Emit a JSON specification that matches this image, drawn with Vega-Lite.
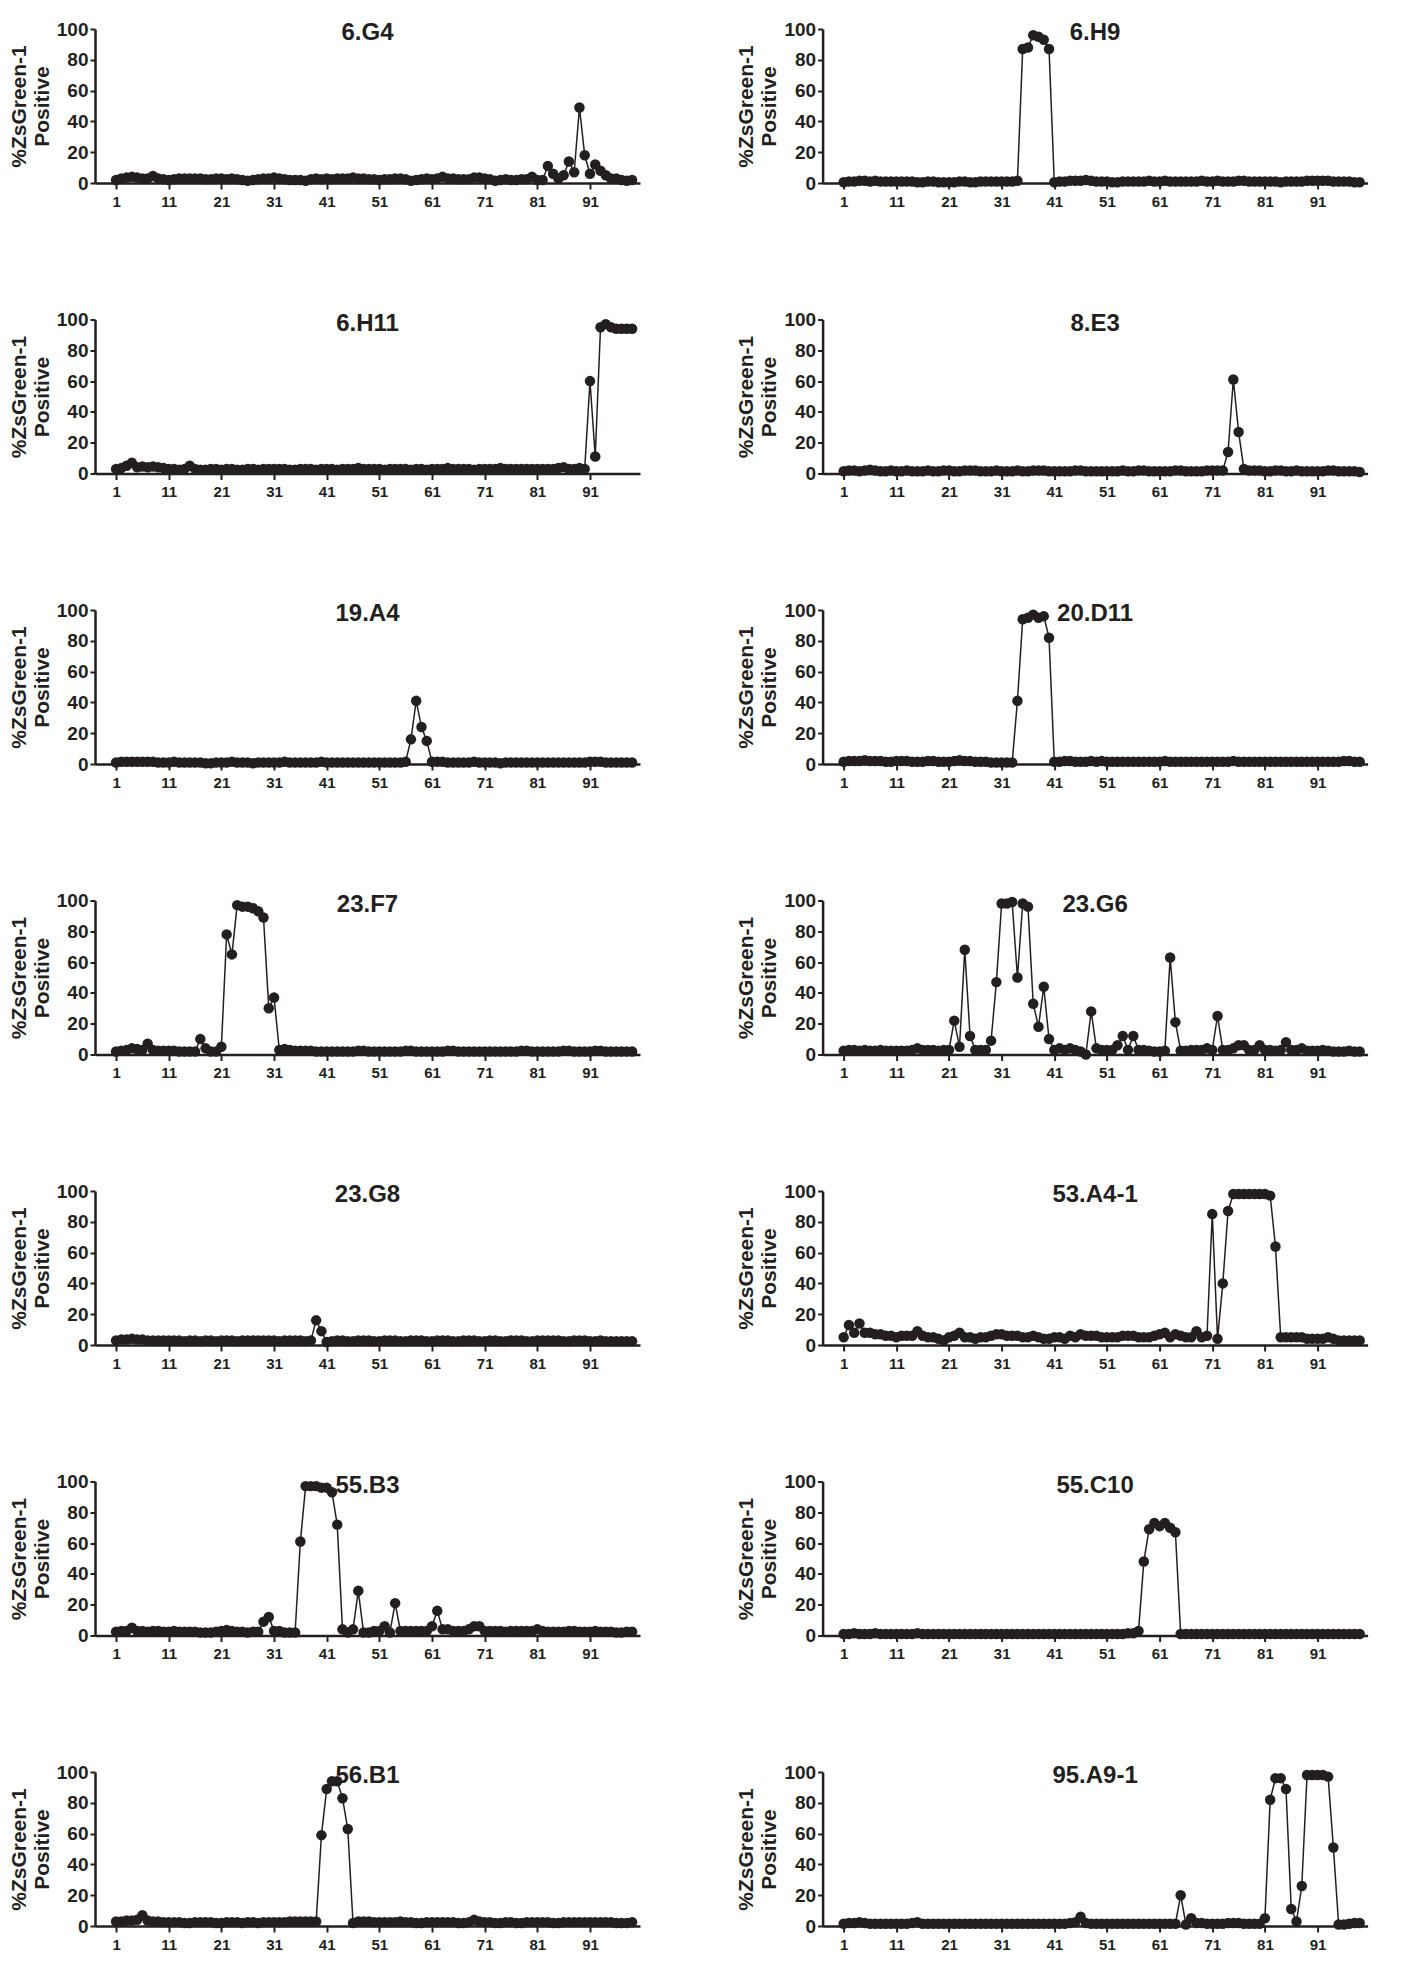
{
  "$schema": "https://vega.github.io/schema/vega-lite/v6.json",
  "padding": {"left": 8, "top": 20, "right": 5, "bottom": 5},
  "columns": 2,
  "spacing": {"row": 136.5, "column": 182.6},
  "bounds": "flush",
  "config": {
    "view": {"stroke": null},
    "font": "Liberation Sans",
    "title": {"font": "Liberation Sans", "fontSize": 24, "fontWeight": "bold", "color": "#231f20", "anchor": "middle", "offset": -25, "baseline": "alphabetic"},
    "axis": {"domainColor": "#231f20", "domainWidth": 2.5, "tickColor": "#231f20", "tickWidth": 2, "grid": false, "labelColor": "#231f20", "labelFont": "Liberation Sans", "labelFontWeight": "bold", "titleColor": "#231f20", "titleFont": "Liberation Sans", "titleFontWeight": "bold"},
    "axisX": {"labelFontSize": 15, "tickSize": 6, "labelPadding": 5},
    "axisY": {"labelFontSize": 19, "tickSize": 5, "labelPadding": 2, "titleFontSize": 21, "titleLineHeight": 23, "titlePadding": 4}
  },
  "datasets": {
    "g6G4": [{"well":1,"pct":2},{"well":2,"pct":3},{"well":3,"pct":3.5},{"well":4,"pct":4},{"well":5,"pct":3.5},{"well":6,"pct":3},{"well":7,"pct":3},{"well":8,"pct":4.5},{"well":9,"pct":3},{"well":10,"pct":2.5},{"well":11,"pct":2},{"well":12,"pct":2.5},{"well":13,"pct":3},{"well":14,"pct":3},{"well":15,"pct":3},{"well":16,"pct":3},{"well":17,"pct":3},{"well":18,"pct":2.5},{"well":19,"pct":2.5},{"well":20,"pct":3},{"well":21,"pct":3},{"well":22,"pct":2.5},{"well":23,"pct":3},{"well":24,"pct":2.5},{"well":25,"pct":2},{"well":26,"pct":1.5},{"well":27,"pct":2},{"well":28,"pct":2.5},{"well":29,"pct":3},{"well":30,"pct":3},{"well":31,"pct":3.5},{"well":32,"pct":3},{"well":33,"pct":2.5},{"well":34,"pct":2},{"well":35,"pct":2},{"well":36,"pct":2},{"well":37,"pct":1.5},{"well":38,"pct":2.5},{"well":39,"pct":3},{"well":40,"pct":2.5},{"well":41,"pct":3},{"well":42,"pct":2.5},{"well":43,"pct":3},{"well":44,"pct":3},{"well":45,"pct":3},{"well":46,"pct":3.5},{"well":47,"pct":3},{"well":48,"pct":3},{"well":49,"pct":2.5},{"well":50,"pct":2.5},{"well":51,"pct":2},{"well":52,"pct":2.5},{"well":53,"pct":2.5},{"well":54,"pct":3},{"well":55,"pct":3},{"well":56,"pct":2.5},{"well":57,"pct":1.5},{"well":58,"pct":2},{"well":59,"pct":2.5},{"well":60,"pct":3},{"well":61,"pct":2.5},{"well":62,"pct":3},{"well":63,"pct":4},{"well":64,"pct":3},{"well":65,"pct":3},{"well":66,"pct":2.5},{"well":67,"pct":2.5},{"well":68,"pct":2.5},{"well":69,"pct":3.5},{"well":70,"pct":3.5},{"well":71,"pct":3},{"well":72,"pct":2.5},{"well":73,"pct":1.5},{"well":74,"pct":2},{"well":75,"pct":2.5},{"well":76,"pct":2},{"well":77,"pct":2},{"well":78,"pct":2.5},{"well":79,"pct":2.5},{"well":80,"pct":4},{"well":81,"pct":2},{"well":82,"pct":2},{"well":83,"pct":11},{"well":84,"pct":6},{"well":85,"pct":3},{"well":86,"pct":5},{"well":87,"pct":14},{"well":88,"pct":7},{"well":89,"pct":49},{"well":90,"pct":18},{"well":91,"pct":6},{"well":92,"pct":12},{"well":93,"pct":8},{"well":94,"pct":5},{"well":95,"pct":3},{"well":96,"pct":3},{"well":97,"pct":2},{"well":98,"pct":1.5},{"well":99,"pct":2}],
    "g6H9": [{"well":1,"pct":0.5},{"well":2,"pct":1},{"well":3,"pct":1},{"well":4,"pct":1.5},{"well":5,"pct":1.5},{"well":6,"pct":1},{"well":7,"pct":1.5},{"well":8,"pct":1},{"well":9,"pct":1},{"well":10,"pct":1},{"well":11,"pct":1},{"well":12,"pct":1},{"well":13,"pct":1},{"well":14,"pct":1},{"well":15,"pct":0.5},{"well":16,"pct":0.5},{"well":17,"pct":1},{"well":18,"pct":1},{"well":19,"pct":0.5},{"well":20,"pct":0.5},{"well":21,"pct":0.5},{"well":22,"pct":0.5},{"well":23,"pct":1},{"well":24,"pct":1},{"well":25,"pct":0.5},{"well":26,"pct":0.5},{"well":27,"pct":1},{"well":28,"pct":1},{"well":29,"pct":1},{"well":30,"pct":1},{"well":31,"pct":1},{"well":32,"pct":1},{"well":33,"pct":1},{"well":34,"pct":1.5},{"well":35,"pct":87},{"well":36,"pct":88},{"well":37,"pct":96},{"well":38,"pct":95},{"well":39,"pct":93},{"well":40,"pct":87},{"well":41,"pct":0.5},{"well":42,"pct":1},{"well":43,"pct":1},{"well":44,"pct":1.5},{"well":45,"pct":1.5},{"well":46,"pct":1.5},{"well":47,"pct":2},{"well":48,"pct":1.5},{"well":49,"pct":1},{"well":50,"pct":1},{"well":51,"pct":1},{"well":52,"pct":0.5},{"well":53,"pct":0.5},{"well":54,"pct":1},{"well":55,"pct":1},{"well":56,"pct":1},{"well":57,"pct":1},{"well":58,"pct":1},{"well":59,"pct":1.5},{"well":60,"pct":1},{"well":61,"pct":1},{"well":62,"pct":1.5},{"well":63,"pct":1},{"well":64,"pct":1},{"well":65,"pct":1},{"well":66,"pct":1},{"well":67,"pct":1},{"well":68,"pct":1},{"well":69,"pct":1.5},{"well":70,"pct":1},{"well":71,"pct":1},{"well":72,"pct":1.5},{"well":73,"pct":1},{"well":74,"pct":1},{"well":75,"pct":1},{"well":76,"pct":1.5},{"well":77,"pct":1.5},{"well":78,"pct":1},{"well":79,"pct":1},{"well":80,"pct":1},{"well":81,"pct":1},{"well":82,"pct":1},{"well":83,"pct":1},{"well":84,"pct":0.5},{"well":85,"pct":1},{"well":86,"pct":1},{"well":87,"pct":1},{"well":88,"pct":1},{"well":89,"pct":1.5},{"well":90,"pct":1.5},{"well":91,"pct":1.5},{"well":92,"pct":1.5},{"well":93,"pct":1.5},{"well":94,"pct":1},{"well":95,"pct":1},{"well":96,"pct":1},{"well":97,"pct":1},{"well":98,"pct":0.5},{"well":99,"pct":0.5}],
    "g6H11": [{"well":1,"pct":3},{"well":2,"pct":3.5},{"well":3,"pct":5},{"well":4,"pct":7},{"well":5,"pct":4},{"well":6,"pct":4.5},{"well":7,"pct":4},{"well":8,"pct":4.5},{"well":9,"pct":4},{"well":10,"pct":3.5},{"well":11,"pct":3},{"well":12,"pct":3},{"well":13,"pct":2.5},{"well":14,"pct":3},{"well":15,"pct":5},{"well":16,"pct":3},{"well":17,"pct":2.5},{"well":18,"pct":2.5},{"well":19,"pct":3},{"well":20,"pct":3},{"well":21,"pct":2.5},{"well":22,"pct":3},{"well":23,"pct":3},{"well":24,"pct":2.5},{"well":25,"pct":2.5},{"well":26,"pct":3},{"well":27,"pct":3},{"well":28,"pct":2.5},{"well":29,"pct":3},{"well":30,"pct":3},{"well":31,"pct":3},{"well":32,"pct":3},{"well":33,"pct":3},{"well":34,"pct":2.5},{"well":35,"pct":2.5},{"well":36,"pct":3},{"well":37,"pct":3},{"well":38,"pct":3},{"well":39,"pct":2.5},{"well":40,"pct":3},{"well":41,"pct":3},{"well":42,"pct":3},{"well":43,"pct":2.5},{"well":44,"pct":3},{"well":45,"pct":3},{"well":46,"pct":3},{"well":47,"pct":3.5},{"well":48,"pct":3},{"well":49,"pct":3},{"well":50,"pct":3},{"well":51,"pct":3},{"well":52,"pct":2.5},{"well":53,"pct":3},{"well":54,"pct":3},{"well":55,"pct":3},{"well":56,"pct":3},{"well":57,"pct":2.5},{"well":58,"pct":3},{"well":59,"pct":3},{"well":60,"pct":2.5},{"well":61,"pct":3},{"well":62,"pct":3},{"well":63,"pct":3},{"well":64,"pct":3.5},{"well":65,"pct":3},{"well":66,"pct":3},{"well":67,"pct":3},{"well":68,"pct":3},{"well":69,"pct":2.5},{"well":70,"pct":3},{"well":71,"pct":3},{"well":72,"pct":3},{"well":73,"pct":3},{"well":74,"pct":3.5},{"well":75,"pct":3},{"well":76,"pct":3},{"well":77,"pct":3},{"well":78,"pct":3},{"well":79,"pct":3},{"well":80,"pct":3},{"well":81,"pct":3},{"well":82,"pct":3},{"well":83,"pct":3},{"well":84,"pct":3},{"well":85,"pct":3.5},{"well":86,"pct":4},{"well":87,"pct":3},{"well":88,"pct":3},{"well":89,"pct":3.5},{"well":90,"pct":3},{"well":91,"pct":60},{"well":92,"pct":11},{"well":93,"pct":95},{"well":94,"pct":97},{"well":95,"pct":95},{"well":96,"pct":94},{"well":97,"pct":94},{"well":98,"pct":94},{"well":99,"pct":94}],
    "g8E3": [{"well":1,"pct":1.5},{"well":2,"pct":2},{"well":3,"pct":2},{"well":4,"pct":1.5},{"well":5,"pct":2},{"well":6,"pct":2.5},{"well":7,"pct":2},{"well":8,"pct":1.5},{"well":9,"pct":1.5},{"well":10,"pct":2},{"well":11,"pct":1.5},{"well":12,"pct":1.5},{"well":13,"pct":2},{"well":14,"pct":1.5},{"well":15,"pct":1.5},{"well":16,"pct":1.5},{"well":17,"pct":2},{"well":18,"pct":1.5},{"well":19,"pct":1.5},{"well":20,"pct":2},{"well":21,"pct":2},{"well":22,"pct":1.5},{"well":23,"pct":1.5},{"well":24,"pct":2},{"well":25,"pct":2},{"well":26,"pct":2},{"well":27,"pct":1.5},{"well":28,"pct":1.5},{"well":29,"pct":1.5},{"well":30,"pct":2},{"well":31,"pct":1.5},{"well":32,"pct":1.5},{"well":33,"pct":1.5},{"well":34,"pct":2},{"well":35,"pct":1.5},{"well":36,"pct":1.5},{"well":37,"pct":2},{"well":38,"pct":2},{"well":39,"pct":2},{"well":40,"pct":1.5},{"well":41,"pct":1.5},{"well":42,"pct":1.5},{"well":43,"pct":1.5},{"well":44,"pct":1.5},{"well":45,"pct":2},{"well":46,"pct":2},{"well":47,"pct":1.5},{"well":48,"pct":1.5},{"well":49,"pct":1.5},{"well":50,"pct":1.5},{"well":51,"pct":1.5},{"well":52,"pct":1.5},{"well":53,"pct":1.5},{"well":54,"pct":2},{"well":55,"pct":1.5},{"well":56,"pct":1.5},{"well":57,"pct":2},{"well":58,"pct":2},{"well":59,"pct":1.5},{"well":60,"pct":1.5},{"well":61,"pct":1.5},{"well":62,"pct":1.5},{"well":63,"pct":1.5},{"well":64,"pct":2},{"well":65,"pct":2},{"well":66,"pct":1.5},{"well":67,"pct":1.5},{"well":68,"pct":1.5},{"well":69,"pct":1.5},{"well":70,"pct":2},{"well":71,"pct":2},{"well":72,"pct":2},{"well":73,"pct":2},{"well":74,"pct":14},{"well":75,"pct":61},{"well":76,"pct":27},{"well":77,"pct":3},{"well":78,"pct":2},{"well":79,"pct":2},{"well":80,"pct":2},{"well":81,"pct":1.5},{"well":82,"pct":1.5},{"well":83,"pct":2},{"well":84,"pct":2},{"well":85,"pct":1.5},{"well":86,"pct":1.5},{"well":87,"pct":2},{"well":88,"pct":1.5},{"well":89,"pct":1.5},{"well":90,"pct":1.5},{"well":91,"pct":1.5},{"well":92,"pct":1.5},{"well":93,"pct":2},{"well":94,"pct":2},{"well":95,"pct":1.5},{"well":96,"pct":1.5},{"well":97,"pct":1.5},{"well":98,"pct":1.5},{"well":99,"pct":1}],
    "g19A4": [{"well":1,"pct":1},{"well":2,"pct":1.5},{"well":3,"pct":1.5},{"well":4,"pct":1.5},{"well":5,"pct":1.5},{"well":6,"pct":1.5},{"well":7,"pct":1.5},{"well":8,"pct":1.5},{"well":9,"pct":1},{"well":10,"pct":1},{"well":11,"pct":1},{"well":12,"pct":1.5},{"well":13,"pct":1},{"well":14,"pct":1},{"well":15,"pct":1},{"well":16,"pct":1},{"well":17,"pct":1},{"well":18,"pct":0.5},{"well":19,"pct":0.5},{"well":20,"pct":1},{"well":21,"pct":1},{"well":22,"pct":1},{"well":23,"pct":1.5},{"well":24,"pct":1},{"well":25,"pct":1},{"well":26,"pct":1},{"well":27,"pct":0.5},{"well":28,"pct":1},{"well":29,"pct":1},{"well":30,"pct":1},{"well":31,"pct":1},{"well":32,"pct":1},{"well":33,"pct":1.5},{"well":34,"pct":1},{"well":35,"pct":1},{"well":36,"pct":1},{"well":37,"pct":1},{"well":38,"pct":1},{"well":39,"pct":1},{"well":40,"pct":1.5},{"well":41,"pct":1},{"well":42,"pct":1},{"well":43,"pct":1},{"well":44,"pct":1},{"well":45,"pct":1},{"well":46,"pct":1},{"well":47,"pct":1},{"well":48,"pct":1},{"well":49,"pct":1},{"well":50,"pct":1},{"well":51,"pct":1},{"well":52,"pct":1},{"well":53,"pct":1},{"well":54,"pct":1},{"well":55,"pct":1},{"well":56,"pct":1.5},{"well":57,"pct":16},{"well":58,"pct":41},{"well":59,"pct":24},{"well":60,"pct":15},{"well":61,"pct":1.5},{"well":62,"pct":1.5},{"well":63,"pct":1.5},{"well":64,"pct":1},{"well":65,"pct":1},{"well":66,"pct":1},{"well":67,"pct":1},{"well":68,"pct":1},{"well":69,"pct":1.5},{"well":70,"pct":1},{"well":71,"pct":1},{"well":72,"pct":1},{"well":73,"pct":1},{"well":74,"pct":0.5},{"well":75,"pct":1},{"well":76,"pct":1},{"well":77,"pct":1},{"well":78,"pct":1},{"well":79,"pct":1},{"well":80,"pct":1},{"well":81,"pct":1},{"well":82,"pct":1},{"well":83,"pct":1},{"well":84,"pct":1},{"well":85,"pct":1},{"well":86,"pct":1},{"well":87,"pct":1},{"well":88,"pct":1},{"well":89,"pct":1},{"well":90,"pct":1},{"well":91,"pct":1.5},{"well":92,"pct":1.5},{"well":93,"pct":1.5},{"well":94,"pct":1},{"well":95,"pct":1},{"well":96,"pct":1},{"well":97,"pct":1},{"well":98,"pct":1},{"well":99,"pct":1}],
    "g20D11": [{"well":1,"pct":1.5},{"well":2,"pct":2},{"well":3,"pct":2},{"well":4,"pct":2},{"well":5,"pct":2.5},{"well":6,"pct":2},{"well":7,"pct":2},{"well":8,"pct":2},{"well":9,"pct":1.5},{"well":10,"pct":1.5},{"well":11,"pct":2},{"well":12,"pct":2},{"well":13,"pct":2},{"well":14,"pct":1.5},{"well":15,"pct":1.5},{"well":16,"pct":1.5},{"well":17,"pct":2},{"well":18,"pct":2},{"well":19,"pct":1.5},{"well":20,"pct":1.5},{"well":21,"pct":1.5},{"well":22,"pct":2},{"well":23,"pct":2.5},{"well":24,"pct":2},{"well":25,"pct":2},{"well":26,"pct":1.5},{"well":27,"pct":1.5},{"well":28,"pct":1.5},{"well":29,"pct":1},{"well":30,"pct":1},{"well":31,"pct":1},{"well":32,"pct":1},{"well":33,"pct":1},{"well":34,"pct":41},{"well":35,"pct":94},{"well":36,"pct":95},{"well":37,"pct":97},{"well":38,"pct":95},{"well":39,"pct":96},{"well":40,"pct":82},{"well":41,"pct":1.5},{"well":42,"pct":1.5},{"well":43,"pct":2},{"well":44,"pct":2},{"well":45,"pct":1.5},{"well":46,"pct":1.5},{"well":47,"pct":1.5},{"well":48,"pct":2},{"well":49,"pct":1.5},{"well":50,"pct":2},{"well":51,"pct":1.5},{"well":52,"pct":1.5},{"well":53,"pct":1.5},{"well":54,"pct":1.5},{"well":55,"pct":1.5},{"well":56,"pct":1.5},{"well":57,"pct":1.5},{"well":58,"pct":1.5},{"well":59,"pct":1.5},{"well":60,"pct":1.5},{"well":61,"pct":1.5},{"well":62,"pct":2},{"well":63,"pct":1.5},{"well":64,"pct":1.5},{"well":65,"pct":1.5},{"well":66,"pct":1.5},{"well":67,"pct":1.5},{"well":68,"pct":1.5},{"well":69,"pct":1.5},{"well":70,"pct":1.5},{"well":71,"pct":1.5},{"well":72,"pct":1.5},{"well":73,"pct":1.5},{"well":74,"pct":1.5},{"well":75,"pct":2},{"well":76,"pct":1.5},{"well":77,"pct":1.5},{"well":78,"pct":1.5},{"well":79,"pct":1.5},{"well":80,"pct":1.5},{"well":81,"pct":1.5},{"well":82,"pct":1.5},{"well":83,"pct":1.5},{"well":84,"pct":1.5},{"well":85,"pct":1.5},{"well":86,"pct":1.5},{"well":87,"pct":1.5},{"well":88,"pct":1.5},{"well":89,"pct":1.5},{"well":90,"pct":1.5},{"well":91,"pct":1.5},{"well":92,"pct":1.5},{"well":93,"pct":1.5},{"well":94,"pct":1.5},{"well":95,"pct":1.5},{"well":96,"pct":2},{"well":97,"pct":2},{"well":98,"pct":1.5},{"well":99,"pct":1.5}],
    "g23F7": [{"well":1,"pct":2},{"well":2,"pct":2.5},{"well":3,"pct":3},{"well":4,"pct":4},{"well":5,"pct":3.5},{"well":6,"pct":3},{"well":7,"pct":7},{"well":8,"pct":3},{"well":9,"pct":2.5},{"well":10,"pct":2.5},{"well":11,"pct":2.5},{"well":12,"pct":2.5},{"well":13,"pct":2},{"well":14,"pct":2},{"well":15,"pct":2},{"well":16,"pct":2},{"well":17,"pct":10},{"well":18,"pct":4},{"well":19,"pct":2},{"well":20,"pct":2},{"well":21,"pct":5},{"well":22,"pct":78},{"well":23,"pct":65},{"well":24,"pct":97},{"well":25,"pct":96},{"well":26,"pct":96},{"well":27,"pct":95},{"well":28,"pct":93},{"well":29,"pct":89},{"well":30,"pct":30},{"well":31,"pct":37},{"well":32,"pct":3},{"well":33,"pct":3.5},{"well":34,"pct":3},{"well":35,"pct":2.5},{"well":36,"pct":2.5},{"well":37,"pct":2.5},{"well":38,"pct":2.5},{"well":39,"pct":2},{"well":40,"pct":2},{"well":41,"pct":2},{"well":42,"pct":2},{"well":43,"pct":2},{"well":44,"pct":2},{"well":45,"pct":2},{"well":46,"pct":2},{"well":47,"pct":2.5},{"well":48,"pct":2.5},{"well":49,"pct":2},{"well":50,"pct":2},{"well":51,"pct":2},{"well":52,"pct":2},{"well":53,"pct":2},{"well":54,"pct":2},{"well":55,"pct":2},{"well":56,"pct":2.5},{"well":57,"pct":2.5},{"well":58,"pct":2},{"well":59,"pct":2},{"well":60,"pct":2},{"well":61,"pct":2},{"well":62,"pct":2},{"well":63,"pct":2},{"well":64,"pct":2.5},{"well":65,"pct":2.5},{"well":66,"pct":2},{"well":67,"pct":2},{"well":68,"pct":2},{"well":69,"pct":2},{"well":70,"pct":2},{"well":71,"pct":2},{"well":72,"pct":2},{"well":73,"pct":2},{"well":74,"pct":2},{"well":75,"pct":2},{"well":76,"pct":2},{"well":77,"pct":2},{"well":78,"pct":2.5},{"well":79,"pct":2.5},{"well":80,"pct":2},{"well":81,"pct":2},{"well":82,"pct":2},{"well":83,"pct":2},{"well":84,"pct":2},{"well":85,"pct":2},{"well":86,"pct":2.5},{"well":87,"pct":2.5},{"well":88,"pct":2},{"well":89,"pct":2},{"well":90,"pct":2},{"well":91,"pct":2},{"well":92,"pct":2.5},{"well":93,"pct":2.5},{"well":94,"pct":2},{"well":95,"pct":2},{"well":96,"pct":2},{"well":97,"pct":2},{"well":98,"pct":2},{"well":99,"pct":2}],
    "g23G6": [{"well":1,"pct":2.5},{"well":2,"pct":3},{"well":3,"pct":3},{"well":4,"pct":2.5},{"well":5,"pct":3},{"well":6,"pct":2.5},{"well":7,"pct":2.5},{"well":8,"pct":3},{"well":9,"pct":2.5},{"well":10,"pct":2.5},{"well":11,"pct":2.5},{"well":12,"pct":2.5},{"well":13,"pct":2.5},{"well":14,"pct":3},{"well":15,"pct":4},{"well":16,"pct":3},{"well":17,"pct":3},{"well":18,"pct":3},{"well":19,"pct":2.5},{"well":20,"pct":3},{"well":21,"pct":3},{"well":22,"pct":22},{"well":23,"pct":5},{"well":24,"pct":68},{"well":25,"pct":12},{"well":26,"pct":3},{"well":27,"pct":3},{"well":28,"pct":3},{"well":29,"pct":9},{"well":30,"pct":47},{"well":31,"pct":98},{"well":32,"pct":98},{"well":33,"pct":99},{"well":34,"pct":50},{"well":35,"pct":98},{"well":36,"pct":96},{"well":37,"pct":33},{"well":38,"pct":18},{"well":39,"pct":44},{"well":40,"pct":10},{"well":41,"pct":3},{"well":42,"pct":4},{"well":43,"pct":3},{"well":44,"pct":4},{"well":45,"pct":3},{"well":46,"pct":2},{"well":47,"pct":0},{"well":48,"pct":28},{"well":49,"pct":4},{"well":50,"pct":3},{"well":51,"pct":3},{"well":52,"pct":3},{"well":53,"pct":6},{"well":54,"pct":12},{"well":55,"pct":3},{"well":56,"pct":12},{"well":57,"pct":3},{"well":58,"pct":3},{"well":59,"pct":2.5},{"well":60,"pct":2},{"well":61,"pct":2},{"well":62,"pct":2.5},{"well":63,"pct":63},{"well":64,"pct":21},{"well":65,"pct":2.5},{"well":66,"pct":2.5},{"well":67,"pct":3},{"well":68,"pct":3},{"well":69,"pct":3},{"well":70,"pct":4},{"well":71,"pct":3},{"well":72,"pct":25},{"well":73,"pct":3},{"well":74,"pct":3},{"well":75,"pct":4},{"well":76,"pct":6},{"well":77,"pct":6},{"well":78,"pct":3},{"well":79,"pct":3},{"well":80,"pct":6},{"well":81,"pct":3},{"well":82,"pct":3},{"well":83,"pct":2.5},{"well":84,"pct":3},{"well":85,"pct":8},{"well":86,"pct":3},{"well":87,"pct":3},{"well":88,"pct":4},{"well":89,"pct":2.5},{"well":90,"pct":2.5},{"well":91,"pct":2.5},{"well":92,"pct":3},{"well":93,"pct":2.5},{"well":94,"pct":2},{"well":95,"pct":2},{"well":96,"pct":2},{"well":97,"pct":2.5},{"well":98,"pct":2},{"well":99,"pct":2}],
    "g23G8": [{"well":1,"pct":3},{"well":2,"pct":3.5},{"well":3,"pct":3.5},{"well":4,"pct":4},{"well":5,"pct":3.5},{"well":6,"pct":3.5},{"well":7,"pct":3},{"well":8,"pct":3},{"well":9,"pct":3},{"well":10,"pct":3},{"well":11,"pct":3},{"well":12,"pct":3},{"well":13,"pct":3},{"well":14,"pct":2.5},{"well":15,"pct":3},{"well":16,"pct":3},{"well":17,"pct":2.5},{"well":18,"pct":3},{"well":19,"pct":3},{"well":20,"pct":2.5},{"well":21,"pct":3},{"well":22,"pct":3},{"well":23,"pct":3},{"well":24,"pct":2.5},{"well":25,"pct":3},{"well":26,"pct":3},{"well":27,"pct":3},{"well":28,"pct":3},{"well":29,"pct":3},{"well":30,"pct":3},{"well":31,"pct":3},{"well":32,"pct":2.5},{"well":33,"pct":3},{"well":34,"pct":3},{"well":35,"pct":3},{"well":36,"pct":3},{"well":37,"pct":2.5},{"well":38,"pct":3},{"well":39,"pct":16},{"well":40,"pct":9},{"well":41,"pct":2},{"well":42,"pct":2.5},{"well":43,"pct":3},{"well":44,"pct":3},{"well":45,"pct":2.5},{"well":46,"pct":2.5},{"well":47,"pct":3},{"well":48,"pct":3},{"well":49,"pct":3},{"well":50,"pct":2.5},{"well":51,"pct":2.5},{"well":52,"pct":3},{"well":53,"pct":3},{"well":54,"pct":3},{"well":55,"pct":2.5},{"well":56,"pct":2.5},{"well":57,"pct":3},{"well":58,"pct":3},{"well":59,"pct":3},{"well":60,"pct":2.5},{"well":61,"pct":2.5},{"well":62,"pct":3},{"well":63,"pct":3},{"well":64,"pct":3},{"well":65,"pct":2.5},{"well":66,"pct":2.5},{"well":67,"pct":3},{"well":68,"pct":3},{"well":69,"pct":3},{"well":70,"pct":2.5},{"well":71,"pct":2.5},{"well":72,"pct":3},{"well":73,"pct":3},{"well":74,"pct":2.5},{"well":75,"pct":2.5},{"well":76,"pct":3},{"well":77,"pct":3},{"well":78,"pct":3},{"well":79,"pct":2.5},{"well":80,"pct":2.5},{"well":81,"pct":3},{"well":82,"pct":3},{"well":83,"pct":3},{"well":84,"pct":3},{"well":85,"pct":3},{"well":86,"pct":2.5},{"well":87,"pct":2.5},{"well":88,"pct":3},{"well":89,"pct":3},{"well":90,"pct":3},{"well":91,"pct":2.5},{"well":92,"pct":2.5},{"well":93,"pct":3},{"well":94,"pct":2.5},{"well":95,"pct":2.5},{"well":96,"pct":2.5},{"well":97,"pct":2.5},{"well":98,"pct":2.5},{"well":99,"pct":2.5}],
    "g53A41": [{"well":1,"pct":5},{"well":2,"pct":13},{"well":3,"pct":8},{"well":4,"pct":14},{"well":5,"pct":8},{"well":6,"pct":8},{"well":7,"pct":7},{"well":8,"pct":7},{"well":9,"pct":6},{"well":10,"pct":6},{"well":11,"pct":5},{"well":12,"pct":6},{"well":13,"pct":6},{"well":14,"pct":6},{"well":15,"pct":9},{"well":16,"pct":6},{"well":17,"pct":5},{"well":18,"pct":5},{"well":19,"pct":4},{"well":20,"pct":3},{"well":21,"pct":5},{"well":22,"pct":6},{"well":23,"pct":8},{"well":24,"pct":5},{"well":25,"pct":5},{"well":26,"pct":4},{"well":27,"pct":5},{"well":28,"pct":5},{"well":29,"pct":6},{"well":30,"pct":7},{"well":31,"pct":7},{"well":32,"pct":6},{"well":33,"pct":6},{"well":34,"pct":6},{"well":35,"pct":5},{"well":36,"pct":5},{"well":37,"pct":6},{"well":38,"pct":5},{"well":39,"pct":4},{"well":40,"pct":4},{"well":41,"pct":5},{"well":42,"pct":5},{"well":43,"pct":4},{"well":44,"pct":6},{"well":45,"pct":5},{"well":46,"pct":7},{"well":47,"pct":6},{"well":48,"pct":6},{"well":49,"pct":6},{"well":50,"pct":5},{"well":51,"pct":5},{"well":52,"pct":5},{"well":53,"pct":5},{"well":54,"pct":6},{"well":55,"pct":6},{"well":56,"pct":6},{"well":57,"pct":5},{"well":58,"pct":5},{"well":59,"pct":5},{"well":60,"pct":6},{"well":61,"pct":7},{"well":62,"pct":8},{"well":63,"pct":5},{"well":64,"pct":7},{"well":65,"pct":6},{"well":66,"pct":5},{"well":67,"pct":5},{"well":68,"pct":9},{"well":69,"pct":5},{"well":70,"pct":6},{"well":71,"pct":85},{"well":72,"pct":4},{"well":73,"pct":40},{"well":74,"pct":87},{"well":75,"pct":98},{"well":76,"pct":98},{"well":77,"pct":98},{"well":78,"pct":98},{"well":79,"pct":98},{"well":80,"pct":98},{"well":81,"pct":98},{"well":82,"pct":97},{"well":83,"pct":64},{"well":84,"pct":5},{"well":85,"pct":5},{"well":86,"pct":5},{"well":87,"pct":5},{"well":88,"pct":5},{"well":89,"pct":4},{"well":90,"pct":4},{"well":91,"pct":4},{"well":92,"pct":4},{"well":93,"pct":5},{"well":94,"pct":4},{"well":95,"pct":3},{"well":96,"pct":3},{"well":97,"pct":3},{"well":98,"pct":3},{"well":99,"pct":3}],
    "g55B3": [{"well":1,"pct":2.5},{"well":2,"pct":3},{"well":3,"pct":3},{"well":4,"pct":5},{"well":5,"pct":3},{"well":6,"pct":3},{"well":7,"pct":2.5},{"well":8,"pct":3},{"well":9,"pct":3},{"well":10,"pct":2.5},{"well":11,"pct":2.5},{"well":12,"pct":3},{"well":13,"pct":2.5},{"well":14,"pct":2.5},{"well":15,"pct":2.5},{"well":16,"pct":2.5},{"well":17,"pct":2},{"well":18,"pct":2},{"well":19,"pct":2},{"well":20,"pct":2.5},{"well":21,"pct":3},{"well":22,"pct":3.5},{"well":23,"pct":3},{"well":24,"pct":2.5},{"well":25,"pct":2.5},{"well":26,"pct":2},{"well":27,"pct":2.5},{"well":28,"pct":2.5},{"well":29,"pct":9},{"well":30,"pct":12},{"well":31,"pct":3},{"well":32,"pct":3},{"well":33,"pct":2},{"well":34,"pct":2},{"well":35,"pct":2},{"well":36,"pct":61},{"well":37,"pct":97},{"well":38,"pct":97},{"well":39,"pct":97},{"well":40,"pct":96},{"well":41,"pct":96},{"well":42,"pct":93},{"well":43,"pct":72},{"well":44,"pct":4},{"well":45,"pct":2},{"well":46,"pct":4},{"well":47,"pct":29},{"well":48,"pct":2},{"well":49,"pct":2},{"well":50,"pct":3},{"well":51,"pct":3},{"well":52,"pct":6},{"well":53,"pct":2},{"well":54,"pct":21},{"well":55,"pct":3},{"well":56,"pct":3},{"well":57,"pct":3},{"well":58,"pct":3},{"well":59,"pct":3},{"well":60,"pct":3},{"well":61,"pct":6},{"well":62,"pct":16},{"well":63,"pct":4},{"well":64,"pct":4},{"well":65,"pct":3},{"well":66,"pct":3},{"well":67,"pct":3},{"well":68,"pct":4},{"well":69,"pct":6},{"well":70,"pct":6},{"well":71,"pct":3},{"well":72,"pct":3},{"well":73,"pct":3},{"well":74,"pct":3},{"well":75,"pct":2.5},{"well":76,"pct":3},{"well":77,"pct":3},{"well":78,"pct":3},{"well":79,"pct":3},{"well":80,"pct":3},{"well":81,"pct":4},{"well":82,"pct":3},{"well":83,"pct":2.5},{"well":84,"pct":2.5},{"well":85,"pct":2.5},{"well":86,"pct":2.5},{"well":87,"pct":3},{"well":88,"pct":3},{"well":89,"pct":2.5},{"well":90,"pct":2.5},{"well":91,"pct":2.5},{"well":92,"pct":3},{"well":93,"pct":2.5},{"well":94,"pct":2.5},{"well":95,"pct":2.5},{"well":96,"pct":2},{"well":97,"pct":2},{"well":98,"pct":2.5},{"well":99,"pct":2.5}],
    "g55C10": [{"well":1,"pct":1},{"well":2,"pct":1},{"well":3,"pct":1.5},{"well":4,"pct":1},{"well":5,"pct":1},{"well":6,"pct":1},{"well":7,"pct":1.5},{"well":8,"pct":1},{"well":9,"pct":1},{"well":10,"pct":1},{"well":11,"pct":1},{"well":12,"pct":1},{"well":13,"pct":1},{"well":14,"pct":1},{"well":15,"pct":1.5},{"well":16,"pct":1},{"well":17,"pct":1},{"well":18,"pct":1},{"well":19,"pct":1},{"well":20,"pct":1},{"well":21,"pct":1},{"well":22,"pct":1},{"well":23,"pct":1},{"well":24,"pct":1},{"well":25,"pct":1},{"well":26,"pct":1},{"well":27,"pct":1},{"well":28,"pct":1},{"well":29,"pct":1},{"well":30,"pct":1},{"well":31,"pct":1},{"well":32,"pct":1},{"well":33,"pct":1},{"well":34,"pct":1},{"well":35,"pct":1},{"well":36,"pct":1},{"well":37,"pct":1},{"well":38,"pct":1},{"well":39,"pct":1},{"well":40,"pct":1},{"well":41,"pct":1},{"well":42,"pct":1},{"well":43,"pct":1},{"well":44,"pct":1},{"well":45,"pct":1},{"well":46,"pct":1},{"well":47,"pct":1},{"well":48,"pct":1},{"well":49,"pct":1},{"well":50,"pct":1},{"well":51,"pct":1},{"well":52,"pct":1},{"well":53,"pct":1},{"well":54,"pct":1},{"well":55,"pct":1.5},{"well":56,"pct":1.5},{"well":57,"pct":3},{"well":58,"pct":48},{"well":59,"pct":69},{"well":60,"pct":73},{"well":61,"pct":71},{"well":62,"pct":73},{"well":63,"pct":70},{"well":64,"pct":67},{"well":65,"pct":1},{"well":66,"pct":1},{"well":67,"pct":1},{"well":68,"pct":1},{"well":69,"pct":1},{"well":70,"pct":1},{"well":71,"pct":1},{"well":72,"pct":1},{"well":73,"pct":1},{"well":74,"pct":1},{"well":75,"pct":1},{"well":76,"pct":1},{"well":77,"pct":1},{"well":78,"pct":1},{"well":79,"pct":1},{"well":80,"pct":1},{"well":81,"pct":1},{"well":82,"pct":1},{"well":83,"pct":1},{"well":84,"pct":1},{"well":85,"pct":1},{"well":86,"pct":1},{"well":87,"pct":1},{"well":88,"pct":1},{"well":89,"pct":1},{"well":90,"pct":1},{"well":91,"pct":1},{"well":92,"pct":1},{"well":93,"pct":1},{"well":94,"pct":1},{"well":95,"pct":1},{"well":96,"pct":1},{"well":97,"pct":1},{"well":98,"pct":1},{"well":99,"pct":1}],
    "g56B1": [{"well":1,"pct":3},{"well":2,"pct":3},{"well":3,"pct":3.5},{"well":4,"pct":3.5},{"well":5,"pct":4},{"well":6,"pct":7},{"well":7,"pct":3.5},{"well":8,"pct":3},{"well":9,"pct":3},{"well":10,"pct":2.5},{"well":11,"pct":2.5},{"well":12,"pct":2.5},{"well":13,"pct":2.5},{"well":14,"pct":2},{"well":15,"pct":2},{"well":16,"pct":2.5},{"well":17,"pct":2.5},{"well":18,"pct":2.5},{"well":19,"pct":2.5},{"well":20,"pct":2},{"well":21,"pct":2},{"well":22,"pct":2.5},{"well":23,"pct":2.5},{"well":24,"pct":2.5},{"well":25,"pct":2},{"well":26,"pct":2.5},{"well":27,"pct":2.5},{"well":28,"pct":2},{"well":29,"pct":2.5},{"well":30,"pct":2.5},{"well":31,"pct":2.5},{"well":32,"pct":2.5},{"well":33,"pct":2.5},{"well":34,"pct":3},{"well":35,"pct":3},{"well":36,"pct":3},{"well":37,"pct":3},{"well":38,"pct":3},{"well":39,"pct":3},{"well":40,"pct":59},{"well":41,"pct":89},{"well":42,"pct":94},{"well":43,"pct":94},{"well":44,"pct":83},{"well":45,"pct":63},{"well":46,"pct":2},{"well":47,"pct":3},{"well":48,"pct":3},{"well":49,"pct":3},{"well":50,"pct":2.5},{"well":51,"pct":2.5},{"well":52,"pct":2.5},{"well":53,"pct":2.5},{"well":54,"pct":2.5},{"well":55,"pct":3},{"well":56,"pct":2.5},{"well":57,"pct":2.5},{"well":58,"pct":2},{"well":59,"pct":2},{"well":60,"pct":2.5},{"well":61,"pct":2.5},{"well":62,"pct":2.5},{"well":63,"pct":2.5},{"well":64,"pct":2.5},{"well":65,"pct":2.5},{"well":66,"pct":2},{"well":67,"pct":2},{"well":68,"pct":2.5},{"well":69,"pct":4},{"well":70,"pct":3},{"well":71,"pct":2.5},{"well":72,"pct":2.5},{"well":73,"pct":2},{"well":74,"pct":2},{"well":75,"pct":2.5},{"well":76,"pct":2.5},{"well":77,"pct":2},{"well":78,"pct":2},{"well":79,"pct":2.5},{"well":80,"pct":2.5},{"well":81,"pct":2.5},{"well":82,"pct":2.5},{"well":83,"pct":2.5},{"well":84,"pct":2},{"well":85,"pct":2},{"well":86,"pct":2.5},{"well":87,"pct":2.5},{"well":88,"pct":2.5},{"well":89,"pct":2.5},{"well":90,"pct":2.5},{"well":91,"pct":2.5},{"well":92,"pct":2.5},{"well":93,"pct":2.5},{"well":94,"pct":2.5},{"well":95,"pct":2.5},{"well":96,"pct":2},{"well":97,"pct":2},{"well":98,"pct":2},{"well":99,"pct":2.5}],
    "g95A91": [{"well":1,"pct":1.5},{"well":2,"pct":2},{"well":3,"pct":2},{"well":4,"pct":2.5},{"well":5,"pct":2},{"well":6,"pct":1.5},{"well":7,"pct":1.5},{"well":8,"pct":1.5},{"well":9,"pct":1.5},{"well":10,"pct":1.5},{"well":11,"pct":1.5},{"well":12,"pct":1.5},{"well":13,"pct":1.5},{"well":14,"pct":2},{"well":15,"pct":2.5},{"well":16,"pct":1.5},{"well":17,"pct":1.5},{"well":18,"pct":1.5},{"well":19,"pct":1.5},{"well":20,"pct":1.5},{"well":21,"pct":1.5},{"well":22,"pct":1.5},{"well":23,"pct":1.5},{"well":24,"pct":1.5},{"well":25,"pct":1.5},{"well":26,"pct":1.5},{"well":27,"pct":1.5},{"well":28,"pct":1.5},{"well":29,"pct":1.5},{"well":30,"pct":1.5},{"well":31,"pct":1.5},{"well":32,"pct":1.5},{"well":33,"pct":1.5},{"well":34,"pct":1.5},{"well":35,"pct":1.5},{"well":36,"pct":1.5},{"well":37,"pct":1.5},{"well":38,"pct":1.5},{"well":39,"pct":1.5},{"well":40,"pct":1.5},{"well":41,"pct":1.5},{"well":42,"pct":1.5},{"well":43,"pct":1.5},{"well":44,"pct":2},{"well":45,"pct":2.5},{"well":46,"pct":6},{"well":47,"pct":2},{"well":48,"pct":1.5},{"well":49,"pct":1.5},{"well":50,"pct":1.5},{"well":51,"pct":1.5},{"well":52,"pct":1.5},{"well":53,"pct":1.5},{"well":54,"pct":1.5},{"well":55,"pct":1.5},{"well":56,"pct":1.5},{"well":57,"pct":1.5},{"well":58,"pct":1.5},{"well":59,"pct":1.5},{"well":60,"pct":1.5},{"well":61,"pct":1.5},{"well":62,"pct":1.5},{"well":63,"pct":1.5},{"well":64,"pct":1.5},{"well":65,"pct":20},{"well":66,"pct":1},{"well":67,"pct":5},{"well":68,"pct":2},{"well":69,"pct":2},{"well":70,"pct":1.5},{"well":71,"pct":1.5},{"well":72,"pct":1.5},{"well":73,"pct":1.5},{"well":74,"pct":2},{"well":75,"pct":2},{"well":76,"pct":2},{"well":77,"pct":1.5},{"well":78,"pct":1.5},{"well":79,"pct":1.5},{"well":80,"pct":1.5},{"well":81,"pct":5},{"well":82,"pct":82},{"well":83,"pct":96},{"well":84,"pct":96},{"well":85,"pct":89},{"well":86,"pct":11},{"well":87,"pct":3},{"well":88,"pct":26},{"well":89,"pct":98},{"well":90,"pct":98},{"well":91,"pct":98},{"well":92,"pct":98},{"well":93,"pct":97},{"well":94,"pct":51},{"well":95,"pct":1},{"well":96,"pct":1},{"well":97,"pct":1.5},{"well":98,"pct":2},{"well":99,"pct":2}]
  },
  "concat": [
    {"title": "6.G4", "data": {"name": "g6G4"}, "width": 545, "height": 154,
     "mark": {"type": "line", "color": "#231f20", "strokeWidth": 1.5, "point": {"filled": true, "size": 110, "color": "#231f20", "opacity": 1}},
     "encoding": {"x": {"field": "well", "type": "quantitative", "scale": {"domain": [-3, 100.5], "nice": false, "zero": false}, "axis": {"title": null, "values": [1, 11, 21, 31, 41, 51, 61, 71, 81, 91], "labelFlush": false}},
                  "y": {"field": "pct", "type": "quantitative", "scale": {"domain": [0, 100], "nice": false}, "axis": {"title": ["%ZsGreen-1", "Positive"], "values": [0, 20, 40, 60, 80, 100]}}}},
    {"title": "6.H9", "data": {"name": "g6H9"}, "width": 545, "height": 154,
     "mark": {"type": "line", "color": "#231f20", "strokeWidth": 1.5, "point": {"filled": true, "size": 110, "color": "#231f20", "opacity": 1}},
     "encoding": {"x": {"field": "well", "type": "quantitative", "scale": {"domain": [-3, 100.5], "nice": false, "zero": false}, "axis": {"title": null, "values": [1, 11, 21, 31, 41, 51, 61, 71, 81, 91], "labelFlush": false}},
                  "y": {"field": "pct", "type": "quantitative", "scale": {"domain": [0, 100], "nice": false}, "axis": {"title": ["%ZsGreen-1", "Positive"], "values": [0, 20, 40, 60, 80, 100]}}}},
    {"title": "6.H11", "data": {"name": "g6H11"}, "width": 545, "height": 154,
     "mark": {"type": "line", "color": "#231f20", "strokeWidth": 1.5, "point": {"filled": true, "size": 110, "color": "#231f20", "opacity": 1}},
     "encoding": {"x": {"field": "well", "type": "quantitative", "scale": {"domain": [-3, 100.5], "nice": false, "zero": false}, "axis": {"title": null, "values": [1, 11, 21, 31, 41, 51, 61, 71, 81, 91], "labelFlush": false}},
                  "y": {"field": "pct", "type": "quantitative", "scale": {"domain": [0, 100], "nice": false}, "axis": {"title": ["%ZsGreen-1", "Positive"], "values": [0, 20, 40, 60, 80, 100]}}}},
    {"title": "8.E3", "data": {"name": "g8E3"}, "width": 545, "height": 154,
     "mark": {"type": "line", "color": "#231f20", "strokeWidth": 1.5, "point": {"filled": true, "size": 110, "color": "#231f20", "opacity": 1}},
     "encoding": {"x": {"field": "well", "type": "quantitative", "scale": {"domain": [-3, 100.5], "nice": false, "zero": false}, "axis": {"title": null, "values": [1, 11, 21, 31, 41, 51, 61, 71, 81, 91], "labelFlush": false}},
                  "y": {"field": "pct", "type": "quantitative", "scale": {"domain": [0, 100], "nice": false}, "axis": {"title": ["%ZsGreen-1", "Positive"], "values": [0, 20, 40, 60, 80, 100]}}}},
    {"title": "19.A4", "data": {"name": "g19A4"}, "width": 545, "height": 154,
     "mark": {"type": "line", "color": "#231f20", "strokeWidth": 1.5, "point": {"filled": true, "size": 110, "color": "#231f20", "opacity": 1}},
     "encoding": {"x": {"field": "well", "type": "quantitative", "scale": {"domain": [-3, 100.5], "nice": false, "zero": false}, "axis": {"title": null, "values": [1, 11, 21, 31, 41, 51, 61, 71, 81, 91], "labelFlush": false}},
                  "y": {"field": "pct", "type": "quantitative", "scale": {"domain": [0, 100], "nice": false}, "axis": {"title": ["%ZsGreen-1", "Positive"], "values": [0, 20, 40, 60, 80, 100]}}}},
    {"title": "20.D11", "data": {"name": "g20D11"}, "width": 545, "height": 154,
     "mark": {"type": "line", "color": "#231f20", "strokeWidth": 1.5, "point": {"filled": true, "size": 110, "color": "#231f20", "opacity": 1}},
     "encoding": {"x": {"field": "well", "type": "quantitative", "scale": {"domain": [-3, 100.5], "nice": false, "zero": false}, "axis": {"title": null, "values": [1, 11, 21, 31, 41, 51, 61, 71, 81, 91], "labelFlush": false}},
                  "y": {"field": "pct", "type": "quantitative", "scale": {"domain": [0, 100], "nice": false}, "axis": {"title": ["%ZsGreen-1", "Positive"], "values": [0, 20, 40, 60, 80, 100]}}}},
    {"title": "23.F7", "data": {"name": "g23F7"}, "width": 545, "height": 154,
     "mark": {"type": "line", "color": "#231f20", "strokeWidth": 1.5, "point": {"filled": true, "size": 110, "color": "#231f20", "opacity": 1}},
     "encoding": {"x": {"field": "well", "type": "quantitative", "scale": {"domain": [-3, 100.5], "nice": false, "zero": false}, "axis": {"title": null, "values": [1, 11, 21, 31, 41, 51, 61, 71, 81, 91], "labelFlush": false}},
                  "y": {"field": "pct", "type": "quantitative", "scale": {"domain": [0, 100], "nice": false}, "axis": {"title": ["%ZsGreen-1", "Positive"], "values": [0, 20, 40, 60, 80, 100]}}}},
    {"title": "23.G6", "data": {"name": "g23G6"}, "width": 545, "height": 154,
     "mark": {"type": "line", "color": "#231f20", "strokeWidth": 1.5, "point": {"filled": true, "size": 110, "color": "#231f20", "opacity": 1}},
     "encoding": {"x": {"field": "well", "type": "quantitative", "scale": {"domain": [-3, 100.5], "nice": false, "zero": false}, "axis": {"title": null, "values": [1, 11, 21, 31, 41, 51, 61, 71, 81, 91], "labelFlush": false}},
                  "y": {"field": "pct", "type": "quantitative", "scale": {"domain": [0, 100], "nice": false}, "axis": {"title": ["%ZsGreen-1", "Positive"], "values": [0, 20, 40, 60, 80, 100]}}}},
    {"title": "23.G8", "data": {"name": "g23G8"}, "width": 545, "height": 154,
     "mark": {"type": "line", "color": "#231f20", "strokeWidth": 1.5, "point": {"filled": true, "size": 110, "color": "#231f20", "opacity": 1}},
     "encoding": {"x": {"field": "well", "type": "quantitative", "scale": {"domain": [-3, 100.5], "nice": false, "zero": false}, "axis": {"title": null, "values": [1, 11, 21, 31, 41, 51, 61, 71, 81, 91], "labelFlush": false}},
                  "y": {"field": "pct", "type": "quantitative", "scale": {"domain": [0, 100], "nice": false}, "axis": {"title": ["%ZsGreen-1", "Positive"], "values": [0, 20, 40, 60, 80, 100]}}}},
    {"title": "53.A4-1", "data": {"name": "g53A41"}, "width": 545, "height": 154,
     "mark": {"type": "line", "color": "#231f20", "strokeWidth": 1.5, "point": {"filled": true, "size": 110, "color": "#231f20", "opacity": 1}},
     "encoding": {"x": {"field": "well", "type": "quantitative", "scale": {"domain": [-3, 100.5], "nice": false, "zero": false}, "axis": {"title": null, "values": [1, 11, 21, 31, 41, 51, 61, 71, 81, 91], "labelFlush": false}},
                  "y": {"field": "pct", "type": "quantitative", "scale": {"domain": [0, 100], "nice": false}, "axis": {"title": ["%ZsGreen-1", "Positive"], "values": [0, 20, 40, 60, 80, 100]}}}},
    {"title": "55.B3", "data": {"name": "g55B3"}, "width": 545, "height": 154,
     "mark": {"type": "line", "color": "#231f20", "strokeWidth": 1.5, "point": {"filled": true, "size": 110, "color": "#231f20", "opacity": 1}},
     "encoding": {"x": {"field": "well", "type": "quantitative", "scale": {"domain": [-3, 100.5], "nice": false, "zero": false}, "axis": {"title": null, "values": [1, 11, 21, 31, 41, 51, 61, 71, 81, 91], "labelFlush": false}},
                  "y": {"field": "pct", "type": "quantitative", "scale": {"domain": [0, 100], "nice": false}, "axis": {"title": ["%ZsGreen-1", "Positive"], "values": [0, 20, 40, 60, 80, 100]}}}},
    {"title": "55.C10", "data": {"name": "g55C10"}, "width": 545, "height": 154,
     "mark": {"type": "line", "color": "#231f20", "strokeWidth": 1.5, "point": {"filled": true, "size": 110, "color": "#231f20", "opacity": 1}},
     "encoding": {"x": {"field": "well", "type": "quantitative", "scale": {"domain": [-3, 100.5], "nice": false, "zero": false}, "axis": {"title": null, "values": [1, 11, 21, 31, 41, 51, 61, 71, 81, 91], "labelFlush": false}},
                  "y": {"field": "pct", "type": "quantitative", "scale": {"domain": [0, 100], "nice": false}, "axis": {"title": ["%ZsGreen-1", "Positive"], "values": [0, 20, 40, 60, 80, 100]}}}},
    {"title": "56.B1", "data": {"name": "g56B1"}, "width": 545, "height": 154,
     "mark": {"type": "line", "color": "#231f20", "strokeWidth": 1.5, "point": {"filled": true, "size": 110, "color": "#231f20", "opacity": 1}},
     "encoding": {"x": {"field": "well", "type": "quantitative", "scale": {"domain": [-3, 100.5], "nice": false, "zero": false}, "axis": {"title": null, "values": [1, 11, 21, 31, 41, 51, 61, 71, 81, 91], "labelFlush": false}},
                  "y": {"field": "pct", "type": "quantitative", "scale": {"domain": [0, 100], "nice": false}, "axis": {"title": ["%ZsGreen-1", "Positive"], "values": [0, 20, 40, 60, 80, 100]}}}},
    {"title": "95.A9-1", "data": {"name": "g95A91"}, "width": 545, "height": 154,
     "mark": {"type": "line", "color": "#231f20", "strokeWidth": 1.5, "point": {"filled": true, "size": 110, "color": "#231f20", "opacity": 1}},
     "encoding": {"x": {"field": "well", "type": "quantitative", "scale": {"domain": [-3, 100.5], "nice": false, "zero": false}, "axis": {"title": null, "values": [1, 11, 21, 31, 41, 51, 61, 71, 81, 91], "labelFlush": false}},
                  "y": {"field": "pct", "type": "quantitative", "scale": {"domain": [0, 100], "nice": false}, "axis": {"title": ["%ZsGreen-1", "Positive"], "values": [0, 20, 40, 60, 80, 100]}}}}
  ]
}
